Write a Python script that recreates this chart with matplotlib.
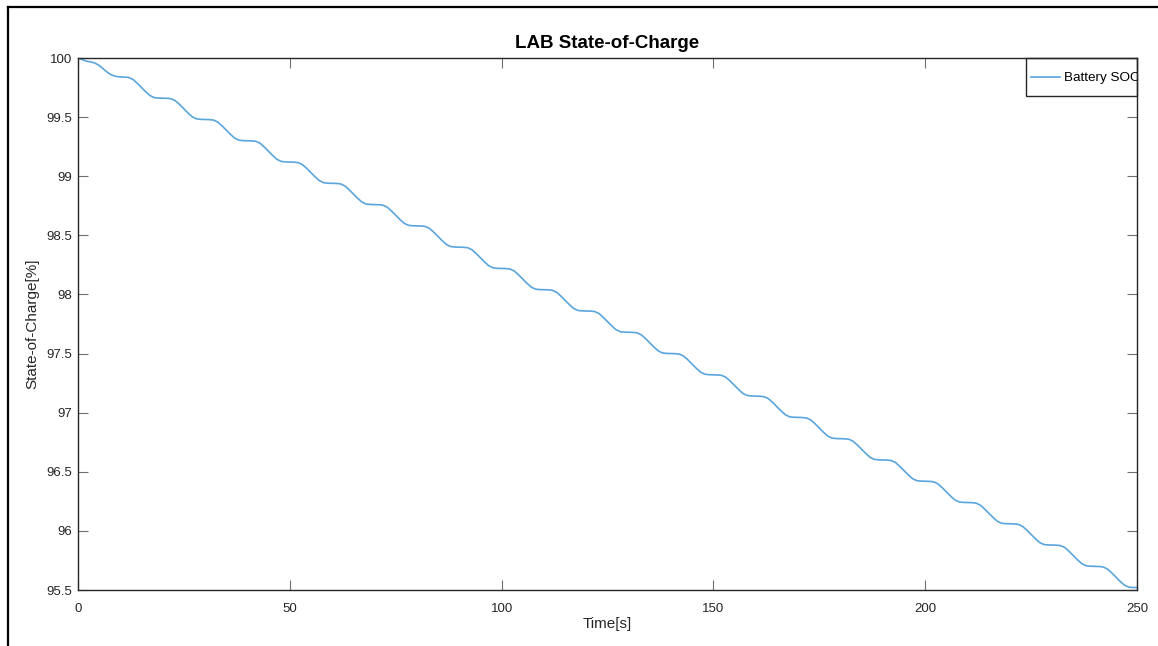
import numpy as np
import matplotlib
matplotlib.use("Agg")
import matplotlib.pyplot as plt
from matplotlib.lines import Line2D
from matplotlib.patches import Rectangle
from matplotlib.ticker import FormatStrFormatter

plt.rcParams["font.family"] = ["Liberation Sans", "DejaVu Sans"]

# time axis in seconds, one sample per second
time_s = np.arange(0, 251)

# battery state of charge [%]
soc = [
    100.000, 99.986, 99.973, 99.967, 99.957, 99.937, 99.907, 99.877, 99.855, 99.844,
    99.840, 99.839, 99.835, 99.818, 99.786, 99.750, 99.714, 99.682, 99.665, 99.661,
    99.660, 99.659, 99.655, 99.638, 99.606, 99.570, 99.534, 99.502, 99.485, 99.481,
    99.480, 99.479, 99.475, 99.458, 99.426, 99.390, 99.354, 99.322, 99.305, 99.301,
    99.300, 99.299, 99.295, 99.278, 99.246, 99.210, 99.174, 99.142, 99.125, 99.121,
    99.120, 99.119, 99.115, 99.098, 99.066, 99.030, 98.994, 98.962, 98.945, 98.941,
    98.940, 98.939, 98.935, 98.918, 98.886, 98.850, 98.814, 98.782, 98.765, 98.761,
    98.760, 98.759, 98.755, 98.738, 98.706, 98.670, 98.634, 98.602, 98.585, 98.581,
    98.580, 98.579, 98.575, 98.558, 98.526, 98.490, 98.454, 98.422, 98.405, 98.401,
    98.400, 98.399, 98.395, 98.378, 98.346, 98.310, 98.274, 98.242, 98.225, 98.221,
    98.220, 98.219, 98.215, 98.198, 98.166, 98.130, 98.094, 98.062, 98.045, 98.041,
    98.040, 98.039, 98.035, 98.018, 97.986, 97.950, 97.914, 97.882, 97.865, 97.861,
    97.860, 97.859, 97.855, 97.838, 97.806, 97.770, 97.734, 97.702, 97.685, 97.681,
    97.680, 97.679, 97.675, 97.658, 97.626, 97.590, 97.554, 97.522, 97.505, 97.501,
    97.500, 97.499, 97.495, 97.478, 97.446, 97.410, 97.374, 97.342, 97.325, 97.321,
    97.320, 97.319, 97.315, 97.298, 97.266, 97.230, 97.194, 97.162, 97.145, 97.141,
    97.140, 97.139, 97.135, 97.118, 97.086, 97.050, 97.014, 96.982, 96.965, 96.961,
    96.960, 96.959, 96.955, 96.938, 96.906, 96.870, 96.834, 96.802, 96.785, 96.781,
    96.780, 96.779, 96.775, 96.758, 96.726, 96.690, 96.654, 96.622, 96.605, 96.601,
    96.600, 96.599, 96.595, 96.578, 96.546, 96.510, 96.474, 96.442, 96.425, 96.421,
    96.420, 96.419, 96.415, 96.398, 96.366, 96.330, 96.294, 96.262, 96.245, 96.241,
    96.240, 96.239, 96.235, 96.218, 96.186, 96.150, 96.114, 96.082, 96.065, 96.061,
    96.060, 96.059, 96.055, 96.038, 96.006, 95.970, 95.934, 95.902, 95.885, 95.881,
    95.880, 95.879, 95.875, 95.858, 95.826, 95.790, 95.754, 95.722, 95.705, 95.701,
    95.700, 95.699, 95.695, 95.678, 95.646, 95.610, 95.574, 95.542, 95.525, 95.521,
    95.520,
]

x_ticks = [0, 50, 100, 150, 200, 250]
y_ticks = [95.5, 96, 96.5, 97, 97.5, 98, 98.5, 99, 99.5, 100]

fig = plt.figure(figsize=(11.58, 6.46), dpi=100)
ax = fig.add_axes([78 / 1158, 1 - 590 / 646, (1137 - 78) / 1158, (590 - 58) / 646])

ax.plot(time_s, soc, color="#5AA5DC", linewidth=1.2, label="Battery SOC")

ax.set_xlim(0, 250)
ax.set_ylim(95.5, 100)
ax.set_xticks(x_ticks)
ax.set_yticks(y_ticks)
ax.yaxis.set_major_formatter(FormatStrFormatter("%g"))

# MATLAB-like box with inward ticks on all sides
ax.tick_params(direction="in", length=7, width=0.8, color="#707070",
               labelsize=9.5, labelcolor="#262626", top=True, right=True)
ax.tick_params(axis="x", pad=9)
ax.tick_params(axis="y", pad=4)
for sp in ax.spines.values():
    sp.set_color("#262626")
    sp.set_linewidth(1.0)

ax.set_title("LAB State-of-Charge", fontsize=13.5, fontweight="bold", pad=7)
ax.set_xlabel("Time[s]", fontsize=11, color="#262626", labelpad=2)
ax.set_ylabel("State-of-Charge[%]", fontsize=11, color="#262626", labelpad=5)

# legend: box sits flush in the top right corner, text clipped by the axes edge
leg = ax.legend(loc="upper left", bbox_to_anchor=(0.8945, 0.984), fontsize=9.7,
                frameon=False, borderaxespad=0, handlelength=2.2,
                handletextpad=0.25, borderpad=0.4)
for txt in leg.get_texts():
    txt.set_clip_box(ax.bbox)
    txt.set_clip_on(True)
ax.add_patch(Rectangle((0.8952, 0.9286), 1.0 - 0.8952, 0.0714, transform=ax.transAxes,
                       facecolor="none", edgecolor="#262626", linewidth=1.0,
                       clip_on=False, zorder=6))

# outer frame of the screenshot (only left and top edges visible)
fig.add_artist(Line2D([8 / 1158, 8 / 1158], [0, 1 - 7 / 646], color="black", linewidth=1.6))
fig.add_artist(Line2D([8 / 1158, 1], [1 - 7 / 646, 1 - 7 / 646], color="black", linewidth=1.6))

fig.savefig("out.png", dpi=100)
